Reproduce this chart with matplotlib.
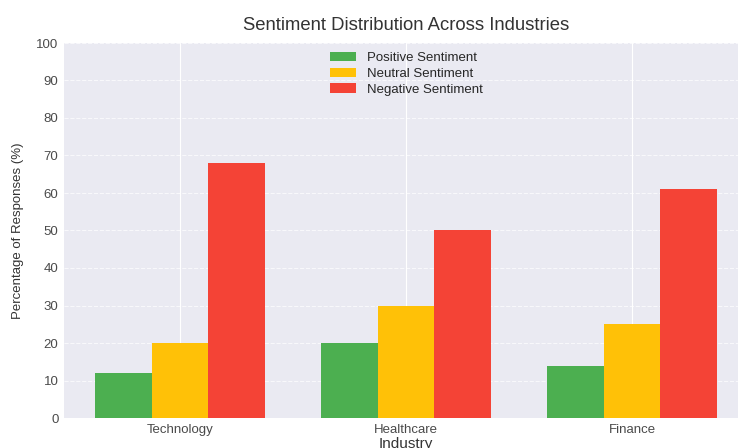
import numpy as np
import matplotlib
matplotlib.use("Agg")
import matplotlib.pyplot as plt

industries = ["Technology", "Healthcare", "Finance"]
positive = [12, 20, 14]
neutral = [20, 30, 25]
negative = [68, 50, 61]

series_names = ["Positive Sentiment", "Neutral Sentiment", "Negative Sentiment"]
colors = ["#4CAF50", "#FFC107", "#F44336"]

plt.style.use("seaborn-v0_8-darkgrid")
plt.rcParams["font.family"] = ["Liberation Sans", "DejaVu Sans"]

fig = plt.figure(figsize=(7.38, 4.48), dpi=100)
# the original image is cropped at the right and bottom edges
ax = fig.add_axes([64 / 738, 30 / 448, (748 - 64) / 738, 375 / 448])

x = np.arange(len(industries))
width = 0.25
for i, (vals, name, c) in enumerate(zip([positive, neutral, negative], series_names, colors)):
    ax.bar(x + (i - 1) * width, vals, width, label=name, color=c)

ax.set_ylim(0, 100)
ax.set_yticks(range(0, 101, 10))
ax.set_xticks(x)
ax.set_xticklabels(industries)
ax.tick_params(axis="both", labelsize=9.5, colors="#4a4a4a", pad=4)
ax.set_xlabel("Industry", fontsize=11, color="#333333", labelpad=1)
ax.set_ylabel("Percentage of Responses (%)", fontsize=9.5, color="#333333", labelpad=9)
ax.set_title("Sentiment Distribution Across Industries", fontsize=13.3, color="#333333", pad=9)

ax.grid(axis="y", linestyle="--", alpha=0.7)
ax.grid(axis="x", linestyle="-")
ax.set_axisbelow(True)

ax.legend(loc="upper center", fontsize=9.5, frameon=False, borderaxespad=0.3,
          handlelength=2.0, labelspacing=0.25)

fig.savefig("out.png", dpi=100)
